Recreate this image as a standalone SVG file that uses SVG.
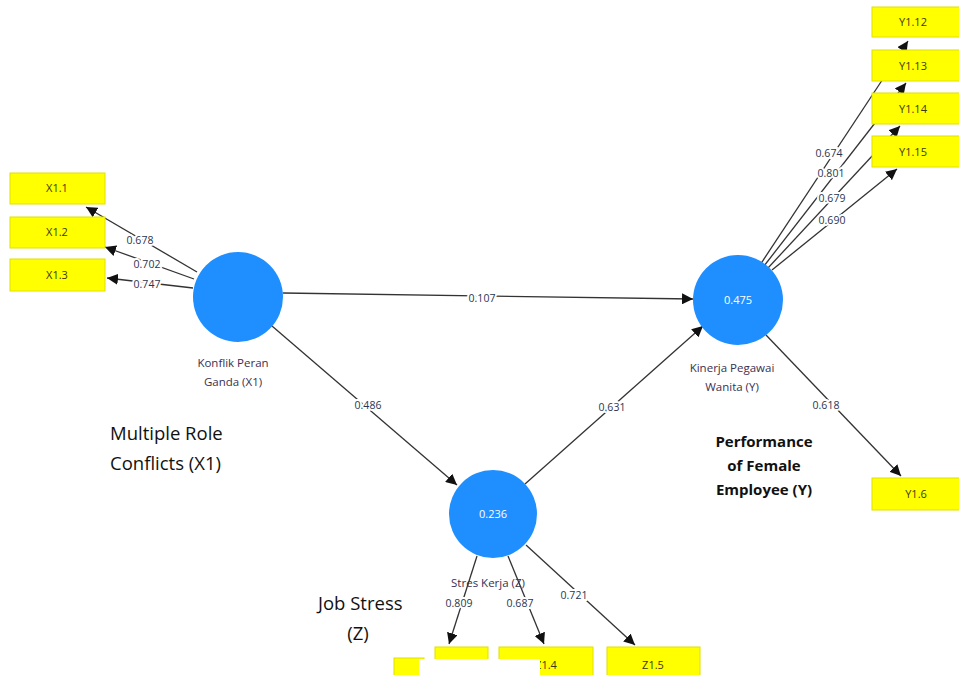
<svg xmlns="http://www.w3.org/2000/svg" width="959" height="675" viewBox="0 0 959 675">
<defs>
<marker id="ah" viewBox="0 0 10 10" refX="10" refY="5" markerWidth="11" markerHeight="11" markerUnits="userSpaceOnUse" orient="auto">
<path d="M0,0 L10,5 L0,10 z" fill="#111"/>
</marker>
<style>
.box{fill:#ffff00;stroke:#e0e000;stroke-width:1}
.bt{font-family:"Open Sans","Liberation Sans",Arial,sans-serif;font-size:11px;fill:#3a3a10;text-anchor:middle}
.lv{fill:#1f8fff}
.lvv{font-family:"Open Sans","Liberation Sans",Arial,sans-serif;font-size:11px;fill:#ffffff;text-anchor:middle}
.ln{font-family:"Open Sans","Liberation Sans",Arial,sans-serif;font-size:11.5px;fill:#3a3050;text-anchor:middle}
.c{stroke:#333;stroke-width:1.3;fill:none;marker-end:url(#ah)}
.el{font-family:"Open Sans","Liberation Sans",Arial,sans-serif;font-size:10.5px;fill:#2a3550;text-anchor:middle;stroke:#fff;stroke-width:4;paint-order:stroke}
.ann{font-family:"Open Sans","Liberation Sans",sans-serif;font-size:18.5px;fill:#111}
.annb{font-family:"Open Sans","Liberation Sans",sans-serif;font-size:15px;font-weight:bold;fill:#111;text-anchor:middle}
</style>
</defs>
<rect width="959" height="675" fill="#fff"/>

<g id="connectors">
<line class="c" x1="197" y1="272" x2="86" y2="207"/>
<line class="c" x1="194" y1="279" x2="105" y2="247"/>
<line class="c" x1="193" y1="288" x2="107" y2="278"/>
<line class="c" x1="283" y1="293" x2="693" y2="299"/>
<line class="c" x1="272" y1="326" x2="457" y2="485"/>
<line class="c" x1="525" y1="484" x2="703" y2="326"/>
<line class="c" x1="766" y1="335" x2="901" y2="476"/>
<line class="c" x1="760" y1="265" x2="908" y2="41"/>
<line class="c" x1="764" y1="266" x2="906" y2="83"/>
<line class="c" x1="768" y1="268" x2="900" y2="126"/>
<line class="c" x1="772" y1="270" x2="897" y2="169"/>
<line class="c" x1="477" y1="556" x2="449" y2="644"/>
<line class="c" x1="508" y1="556" x2="544" y2="644"/>
<line class="c" x1="526" y1="545" x2="635" y2="645"/>
<text class="el" x="140" y="244">0.678</text>
<text class="el" x="147" y="268">0.702</text>
<text class="el" x="147" y="288">0.747</text>
<text class="el" x="482" y="302">0.107</text>
<text class="el" x="368" y="409">0.486</text>
<text class="el" x="612" y="411">0.631</text>
<text class="el" x="826" y="409">0.618</text>
<text class="el" x="829" y="157">0.674</text>
<text class="el" x="831" y="177">0.801</text>
<text class="el" x="832" y="202">0.679</text>
<text class="el" x="832" y="224">0.690</text>
<text class="el" x="459" y="607">0.809</text>
<text class="el" x="520" y="607">0.687</text>
<text class="el" x="574" y="599">0.721</text>
</g>

<g id="X1">
<circle class="lv" cx="238" cy="297" r="45"/>
<text class="ln" x="233" y="367">Konflik Peran</text>
<text class="ln" x="233" y="386">Ganda (X1)</text>
</g>
<g id="Y">
<circle class="lv" cx="738" cy="300" r="45"/>
<text class="lvv" x="738" y="304">0.475</text>
<text class="ln" x="732" y="372">Kinerja Pegawai</text>
<text class="ln" x="732" y="391">Wanita (Y)</text>
</g>
<g id="Z">
<circle class="lv" cx="493" cy="514" r="44"/>
<text class="lvv" x="493" y="518">0.236</text>
<text class="ln" x="488" y="587">Stres Kerja (Z)</text>
</g>

<g id="X1.1"><rect class="box" x="10" y="173" width="95" height="31"/><text class="bt" x="57" y="192">X1.1</text></g>
<g id="X1.2"><rect class="box" x="10" y="217" width="95" height="31"/><text class="bt" x="57" y="236">X1.2</text></g>
<g id="X1.3"><rect class="box" x="10" y="259" width="95" height="32"/><text class="bt" x="57" y="279">X1.3</text></g>

<g id="Y1.12"><rect class="box" x="872" y="7" width="92" height="30"/><text class="bt" x="913" y="26">Y1.12</text></g>
<g id="Y1.13"><rect class="box" x="872" y="50" width="92" height="31"/><text class="bt" x="913" y="70">Y1.13</text></g>
<g id="Y1.14"><rect class="box" x="872" y="93" width="92" height="31"/><text class="bt" x="913" y="113">Y1.14</text></g>
<g id="Y1.15"><rect class="box" x="872" y="136" width="92" height="31"/><text class="bt" x="913" y="156">Y1.15</text></g>
<g id="Y1.6"><rect class="box" x="872" y="478" width="92" height="32"/><text class="bt" x="916" y="498">Y1.6</text></g>

<g id="Z1.3"><rect class="box" x="435" y="647" width="53" height="32"/><rect class="box" x="394" y="658" width="30" height="20"/><text class="bt" x="441" y="669">Z1.3</text></g>
<g id="Z1.4"><rect class="box" x="499" y="647" width="94" height="32"/><text class="bt" x="546" y="669">Z1.4</text></g>
<g id="Z1.5"><rect class="box" x="607" y="647" width="93" height="32"/><text class="bt" x="653" y="669">Z1.5</text></g>
<rect x="419" y="659" width="121" height="20" fill="#fff"/>

<g id="annotations">
<text class="ann" x="110" y="440">Multiple Role</text>
<text class="ann" x="110" y="470">Conflicts (X1)</text>
<text class="ann" x="318" y="610">Job Stress</text>
<text class="ann" x="358" y="640" text-anchor="middle">(Z)</text>
<text class="annb" x="764" y="447">Performance</text>
<text class="annb" x="764" y="471">of Female</text>
<text class="annb" x="764" y="495">Employee (Y)</text>
</g>
</svg>
